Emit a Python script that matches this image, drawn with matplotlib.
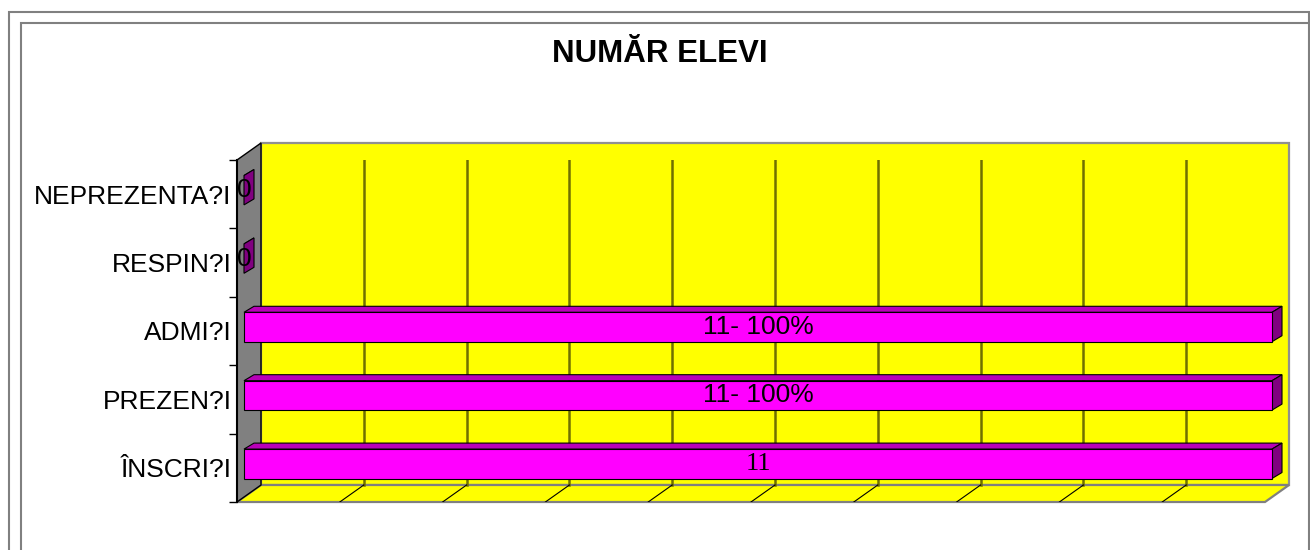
import numpy as np
import matplotlib
matplotlib.use("Agg")
import matplotlib.pyplot as plt
from matplotlib.patches import Polygon, Rectangle
from matplotlib.transforms import IdentityTransform, offset_copy

plt.rcParams['font.family'] = ['Liberation Sans', 'DejaVu Sans']

# data, bottom row first
categories = ["ÎNSCRI?I", "PREZEN?I", "ADMI?I", "RESPIN?I", "NEPREZENTA?I"]
values = [11, 11, 11, 0, 0]
bar_labels = ["11", "11- 100%", "11- 100%", "0", "0"]
label_fonts = ["Liberation Serif", "Liberation Sans", "Liberation Sans",
               "Liberation Sans", "Liberation Sans"]
x_max = 11
n_div = 10

W, H = 1310, 550
fig = plt.figure(figsize=(W / 100, H / 100), dpi=100)
ax = fig.add_axes([237 / W, 48 / H, 1028 / W, 342 / H])
ax.set_xlim(0, x_max)
ax.set_ylim(-0.5, len(categories) - 0.5)
ax.patch.set_visible(False)
for s in ax.spines.values():
    s.set_visible(False)
ax.set_xticks([])

# depth offsets in pixels (right, up)
wall = np.array([24, 17])
front = np.array([7, 4])
back = np.array([17, 10])
ident = IdentityTransform()


def px(x, y, d=(0, 0)):
    p = ax.transData.transform(np.column_stack([np.atleast_1d(x), np.atleast_1d(y)]))
    return p + np.asarray(d)


def face(pts, **kw):
    ax.add_artist(Polygon(pts, closed=True, transform=ident, clip_on=False, **kw))


y_lo, y_hi = -0.5, len(categories) - 0.5

# back wall
bw = px([0, x_max, x_max, 0], [y_lo, y_lo, y_hi, y_hi], wall)
face(bw, fc='#FFFF00', ec='#909090', lw=1.6, zorder=1)
# floor
fl = np.vstack([px([0, x_max], [y_lo, y_lo]), px([x_max, 0], [y_lo, y_lo], wall)])
face(fl, fc='#FFFF00', ec='#808080', lw=1.6, zorder=1)
# left side wall
sw = np.vstack([px([0, 0], [y_lo, y_hi]), px([0, 0], [y_hi, y_lo], wall)])
face(sw, fc='#808080', ec='black', lw=1.0, zorder=1)
# front edge of side wall = value axis line
ax.plot([0, 0], [y_lo, y_hi], color='black', lw=1.5, zorder=2, clip_on=False)

# grid lines on back wall and floor
for xv in np.linspace(0, x_max, n_div + 1)[1:-1]:
    g = px([xv, xv], [y_lo, y_hi], wall)
    ax.plot(g[:, 0], g[:, 1], color='#707000', lw=1.8, transform=ident, zorder=1.5)
    f = np.vstack([px(xv, y_lo), px(xv, y_lo, wall)])
    ax.plot(f[:, 0], f[:, 1], color='black', lw=0.8, transform=ident, zorder=1.5)

# ticks and category labels
ax.set_yticks(np.arange(-0.5, len(categories), 1.0))
ax.set_yticklabels([])
ax.tick_params(axis='y', which='major', length=6, width=1, color='black', direction='out')
ax.set_yticks(np.arange(len(categories)), minor=True)
ax.set_yticklabels(categories, minor=True, fontsize=19)
ax.tick_params(axis='y', which='minor', length=0, pad=4)

# 3D bars
h = 0.43
lbl_tr = offset_copy(ax.transData, fig=fig, x=front[0], y=front[1], units='dots')
for i, v in enumerate(values):
    y0, y1 = i - h / 2, i + h / 2
    top = np.vstack([px([0, v], [y1, y1], front), px([v, 0], [y1, y1], back)])
    face(top, fc='#B800B8', ec='black', lw=0.8, zorder=3)
    side = np.vstack([px([v, v], [y0, y1], front), px([v, v], [y1, y0], back)])
    face(side, fc='#800080', ec='black', lw=0.8, zorder=3)
    if v > 0:
        fr = px([0, v, v, 0], [y0, y0, y1, y1], front)
        face(fr, fc='#FF00FF', ec='black', lw=0.8, zorder=4)
    ax.text(v / 2, i, bar_labels[i], transform=lbl_tr, ha='center', va='center',
            fontsize=19, family=[label_fonts[i], 'DejaVu Sans'], zorder=5, clip_on=False)

fig.text(0.504, 1 - 54 / H, "NUMĂR ELEVI", ha='center', va='center',
         fontsize=22.5, fontweight='bold')

# frame lines around the chart area
fig.add_artist(Rectangle((8.5 / W, -0.1), 1300 / W, 1.1 - 12.5 / H,
                         transform=fig.transFigure, fill=False, ec='#808080', lw=1.5))
fig.add_artist(Rectangle((20.5 / W, -0.1), 1.1, 1.1 - 22.5 / H,
                         transform=fig.transFigure, fill=False, ec='#808080', lw=1.5))

fig.savefig("out.png", dpi=100)
